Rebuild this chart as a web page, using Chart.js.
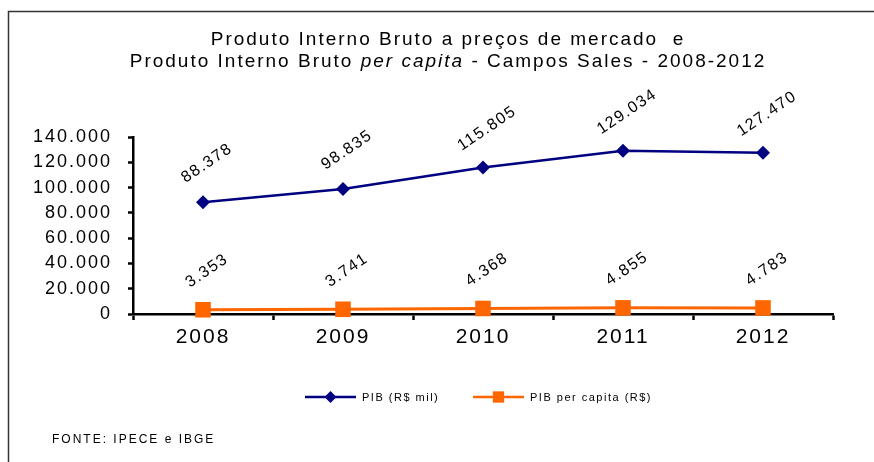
<!DOCTYPE html>
<html>
<head>
<meta charset="utf-8">
<script src="https://cdn.jsdelivr.net/npm/chart.js@4"></script>
<style>
  html, body { margin: 0; padding: 0; background: #fff; }
  #wrap { position: relative; width: 874px; height: 462px; }
</style>
</head>
<body>
<div id="wrap"><canvas id="grafico" width="874" height="462"></canvas></div>
<script>
var anos = ['2008', '2009', '2010', '2011', '2012'];
var pib = [88378, 98835, 115805, 129034, 127470];
var pib_per_capita = [3353, 3741, 4368, 4855, 4783];
var nome_pib = 'PIB (R$ mil)';
var nome_per_capita = 'PIB per capita (R$)';
var fonte = 'FONTE: IPECE e IBGE';

var AZUL = '#000080';
var LARANJA = '#FF6600';
var FONTE_TXT = '"Liberation Sans", Arial, sans-serif';

function formata(v) {
  return String(v).replace(/\B(?=(\d{3})+(?!\d))/g, '.');
}

// o original tem letras bem espaçadas
var espacamento = {
  id: 'espacamento',
  beforeDraw: function(chart) {
    chart.ctx.letterSpacing = '2px';
  }
};

// rotulos inclinados acima de cada ponto
var rotulos = {
  id: 'rotulos',
  afterDatasetsDraw: function(chart) {
    var ctx = chart.ctx;
    ctx.save();
    ctx.letterSpacing = '1.5px';
    ctx.font = '16px ' + FONTE_TXT;
    ctx.fillStyle = '#000';
    ctx.textAlign = 'center';
    ctx.textBaseline = 'middle';
    chart.data.datasets.forEach(function(ds, i) {
      chart.getDatasetMeta(i).data.forEach(function(p, j) {
        ctx.save();
        ctx.translate(p.x + 4, p.y - 39);
        ctx.rotate(-34 * Math.PI / 180);
        ctx.fillText(formata(ds.data[j]), 0, 0);
        ctx.restore();
      });
    });
    ctx.restore();
  }
};

// moldura, titulo, legenda e fonte
var moldura = {
  id: 'moldura',
  afterDraw: function(chart) {
    var ctx = chart.ctx;
    ctx.save();
    ctx.strokeStyle = '#333';
    ctx.lineWidth = 1.5;
    ctx.beginPath();
    ctx.moveTo(8.5, 462);
    ctx.lineTo(8.5, 11.5);
    ctx.lineTo(874, 11.5);
    ctx.stroke();

    // titulo
    ctx.letterSpacing = '2px';
    ctx.fillStyle = '#000';
    ctx.textBaseline = 'middle';
    ctx.textAlign = 'center';
    ctx.font = '19px ' + FONTE_TXT;
    ctx.fillText('Produto Interno Bruto a preços de mercado  e', 448, 40);
    var p1 = 'Produto Interno Bruto ', p2 = 'per capita', p3 = ' - Campos Sales - 2008-2012';
    var w1 = ctx.measureText(p1).width;
    var w3 = ctx.measureText(p3).width;
    ctx.font = 'italic 19px ' + FONTE_TXT;
    var w2 = ctx.measureText(p2).width;
    var x0 = 448 - (w1 + w2 + w3) / 2;
    ctx.textAlign = 'left';
    ctx.font = '19px ' + FONTE_TXT;
    ctx.fillText(p1, x0, 62);
    ctx.font = 'italic 19px ' + FONTE_TXT;
    ctx.fillText(p2, x0 + w1, 62);
    ctx.font = '19px ' + FONTE_TXT;
    ctx.fillText(p3, x0 + w1 + w2, 62);

    // legenda
    var itens = [
      { x: 305, cor: AZUL, txt: nome_pib, estilo: 'rectRot', r: 6 },
      { x: 473, cor: LARANJA, txt: nome_per_capita, estilo: 'rect', r: 8 }
    ];
    ctx.letterSpacing = '1.5px';
    ctx.font = '11px ' + FONTE_TXT;
    itens.forEach(function(it) {
      ctx.strokeStyle = it.cor;
      ctx.lineWidth = 2.5;
      ctx.beginPath();
      ctx.moveTo(it.x, 397);
      ctx.lineTo(it.x + 51, 397);
      ctx.stroke();
      ctx.fillStyle = it.cor;
      Chart.helpers.drawPoint(ctx, { pointStyle: it.estilo, radius: it.r, borderWidth: 0 }, it.x + 25.5, 397);
      ctx.fillStyle = '#000';
      ctx.fillText(it.txt, it.x + 57, 398);
    });

    ctx.letterSpacing = '2px';
    ctx.font = '12px ' + FONTE_TXT;
    ctx.fillText(fonte, 52, 440);
    ctx.restore();
  }
};

new Chart(document.getElementById('grafico'), {
  type: 'line',
  data: {
    labels: anos,
    datasets: [{
      label: nome_pib,
      data: pib,
      borderColor: AZUL,
      backgroundColor: AZUL,
      borderWidth: 2.5,
      pointStyle: 'rectRot',
      pointRadius: 7,
      pointBorderWidth: 0,
      clip: false
    }, {
      label: nome_per_capita,
      data: pib_per_capita,
      borderColor: LARANJA,
      backgroundColor: LARANJA,
      borderWidth: 3,
      pointStyle: 'rect',
      pointRadius: 11,
      pointBorderWidth: 0,
      clip: false
    }]
  },
  options: {
    responsive: false,
    animation: false,
    layout: { padding: { top: 137, right: 41, left: 0, bottom: 0 } },
    plugins: {
      legend: { display: false },
      title: { display: false },
      tooltip: { enabled: false }
    },
    scales: {
      x: {
        offset: true,
        afterFit: function(s) { s.height = 148; },
        grid: { offset: true, drawOnChartArea: false, drawTicks: true, tickLength: 6, tickWidth: 2.5, tickColor: '#000' },
        border: { color: '#000', width: 2.5 },
        ticks: { color: '#000', font: { size: 21, family: FONTE_TXT }, padding: 5, maxRotation: 0 }
      },
      y: {
        min: 0,
        max: 140000,
        afterFit: function(s) { s.width = 133; },
        grid: { drawOnChartArea: false, drawTicks: true, tickLength: 5, tickWidth: 2.5, tickColor: '#000' },
        border: { color: '#000', width: 2.5 },
        ticks: {
          stepSize: 20000,
          color: '#000',
          padding: 16,
          font: { size: 18, family: FONTE_TXT },
          callback: function(v) { return formata(v); }
        }
      }
    }
  },
  plugins: [espacamento, rotulos, moldura]
});
</script>
</body>
</html>
